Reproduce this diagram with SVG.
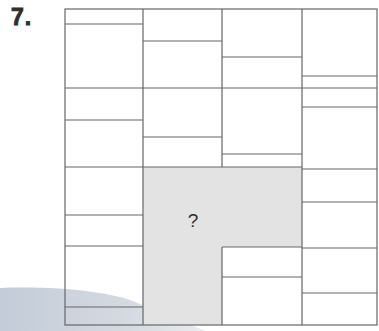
<svg xmlns="http://www.w3.org/2000/svg" width="379" height="331" viewBox="0 0 379 331">
  <defs>
    <linearGradient id="sw" x1="0" y1="0" x2="1" y2="0">
      <stop offset="0" stop-color="#c3ccd8"/>
      <stop offset="0.6" stop-color="#d3d9e1"/>
      <stop offset="1" stop-color="#e9ecef"/>
    </linearGradient>
    <style>
      .ln { stroke: #666666; stroke-width: 1.2; fill: none; }
      .t { font-family: "Liberation Sans", Arial, sans-serif; fill: #2e2e2e; }
    </style>
  </defs>
  <rect width="379" height="331" fill="#ffffff"/>
  <path d="M0,288 C60,286 110,292 135,302 C160,312 180,320 205,331 L0,331 Z" fill="url(#sw)"/>
  <text class="t" x="11" y="25" font-size="23" font-weight="bold" letter-spacing="1" stroke="#2e2e2e" stroke-width="0.9">7.</text>
  <g id="shaded">
    <polygon points="143,167 302,167 302,247 222,247 222,325 143,325" fill="#e3e3e3"/>
    <text class="t" x="193" y="227" font-size="19" text-anchor="middle">?</text>
  </g>
  <g id="grid" class="ln">
    <rect x="65" y="9" width="312" height="316"/>
    <line x1="143" y1="9" x2="143" y2="325"/>
    <line x1="222" y1="9" x2="222" y2="167"/>
    <line x1="222" y1="247" x2="222" y2="325"/>
    <line x1="302" y1="9" x2="302" y2="325"/>
    <!-- column 1 -->
    <line x1="65" y1="24" x2="143" y2="24"/>
    <line x1="65" y1="120" x2="143" y2="120"/>
    <line x1="65" y1="215" x2="143" y2="215"/>
    <line x1="65" y1="246" x2="143" y2="246"/>
    <line x1="65" y1="307" x2="143" y2="307"/>
    <!-- shared -->
    <line x1="65" y1="88" x2="377" y2="88"/>
    <line x1="65" y1="167" x2="302" y2="167"/>
    <!-- column 2 -->
    <line x1="143" y1="41" x2="222" y2="41"/>
    <line x1="143" y1="137" x2="222" y2="137"/>
    <!-- column 3 -->
    <line x1="222" y1="57" x2="302" y2="57"/>
    <line x1="222" y1="154" x2="302" y2="154"/>
    <line x1="222" y1="247" x2="302" y2="247"/>
    <line x1="222" y1="277" x2="302" y2="277"/>
    <!-- column 4 -->
    <line x1="302" y1="76" x2="377" y2="76"/>
    <line x1="302" y1="107" x2="377" y2="107"/>
    <line x1="302" y1="169" x2="377" y2="169"/>
    <line x1="302" y1="202" x2="377" y2="202"/>
    <line x1="302" y1="248" x2="377" y2="248"/>
    <line x1="302" y1="293" x2="377" y2="293"/>
  </g>
</svg>
